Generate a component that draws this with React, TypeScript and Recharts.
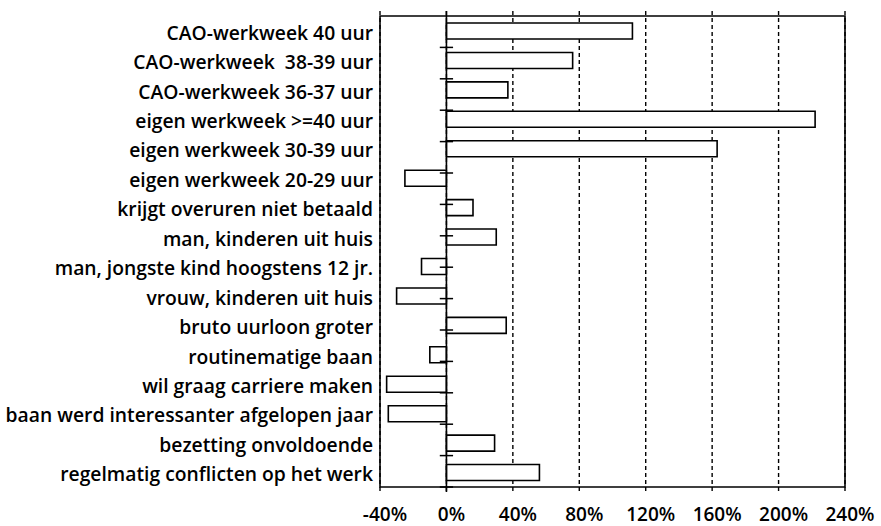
import React from "react";
import {
  BarChart,
  Bar,
  XAxis,
  YAxis,
  CartesianGrid,
  ReferenceLine,
  ReferenceArea,
} from "recharts";

const categories = [
  "CAO-werkweek 40 uur",
  "CAO-werkweek  38-39 uur",
  "CAO-werkweek 36-37 uur",
  "eigen werkweek >=40 uur",
  "eigen werkweek 30-39 uur",
  "eigen werkweek 20-29 uur",
  "krijgt overuren niet betaald",
  "man, kinderen uit huis",
  "man, jongste kind hoogstens 12 jr.",
  "vrouw, kinderen uit huis",
  "bruto uurloon groter",
  "routinematige baan",
  "wil graag carriere maken",
  "baan werd interessanter afgelopen jaar",
  "bezetting onvoldoende",
  "regelmatig conflicten op het werk",
];

const values = [112, 76, 37, 222, 163, -25, 16, 30, -15, -30, 36, -10, -36, -35, 29, 56];

const xTicks = [-40, 0, 40, 80, 120, 160, 200, 240];
const boundaries = [1, 2, 3, 4, 5, 6, 7, 8, 9, 10, 11, 12, 13, 14, 15];

const data = categories.map((name, i) => ({ name, value: values[i] }));

const FONT = "'Open Sans', 'DejaVu Sans', sans-serif";

const CategoryTick = (props: any) => {
  const { x, y, payload } = props;
  return (
    <text
      x={x}
      y={y}
      dy={9}
      textAnchor="end"
      fontFamily={FONT}
      fontSize={19.3}
      fontWeight={600}
      fill="#000"
    >
      {payload.value.replace(/  /g, "\u00a0 ")}
    </text>
  );
};

const PercentTick = (props: any) => {
  const { x, y, payload } = props;
  return (
    <text
      x={x}
      y={y}
      dx={5}
      dy={21}
      textAnchor="middle"
      fontFamily={FONT}
      fontSize={19}
      fontWeight={600}
      fill="#000"
    >
      {payload.value + "%"}
    </text>
  );
};

export default function App() {
  return (
    <div style={{ position: "absolute", left: 0, top: 0, width: 881, height: 526 }}>
      <BarChart
        width={881}
        height={526}
        data={data}
        layout="vertical"
        margin={{ top: 11, right: 36, left: 8, bottom: 0 }}
        barSize={16}
      >
        <CartesianGrid
          horizontal={false}
          stroke="#000"
          strokeWidth={1.4}
          strokeDasharray="4 3"
        />
        <XAxis
          type="number"
          domain={[-40, 240]}
          ticks={xTicks}
          allowDataOverflow
          axisLine={false}
          tickLine={false}
          tickSize={6}
          tickMargin={2}
          height={34}
          tick={<PercentTick />}
          interval={0}
        />
        <YAxis
          type="category"
          dataKey="name"
          width={372}
          axisLine={false}
          tickLine={false}
          tickSize={3}
          tickMargin={4}
          interval={0}
          padding={{ top: 5, bottom: 5 }}
          tick={<CategoryTick />}
        />
        <YAxis
          yAxisId="b"
          type="number"
          domain={[0, 16]}
          hide
          padding={{ top: 5, bottom: 5 }}
        />
        <Bar
          dataKey="value"
          fill="#fff"
          stroke="#000"
          strokeWidth={1.6}
          isAnimationActive={false}
        />
        <ReferenceLine x={0} stroke="#000" strokeWidth={1.6} />
        {boundaries.map((k) => (
          <ReferenceLine
            key={k}
            yAxisId="b"
            segment={[
              { x: -4, y: k },
              { x: 4, y: k },
            ]}
            stroke="#000"
            strokeWidth={1.5}
          />
        ))}
        <ReferenceArea
          x1={-40}
          x2={240}
          fill="none"
          fillOpacity={0}
          stroke="#000"
          strokeWidth={1.6}
        />
      </BarChart>
    </div>
  );
}
